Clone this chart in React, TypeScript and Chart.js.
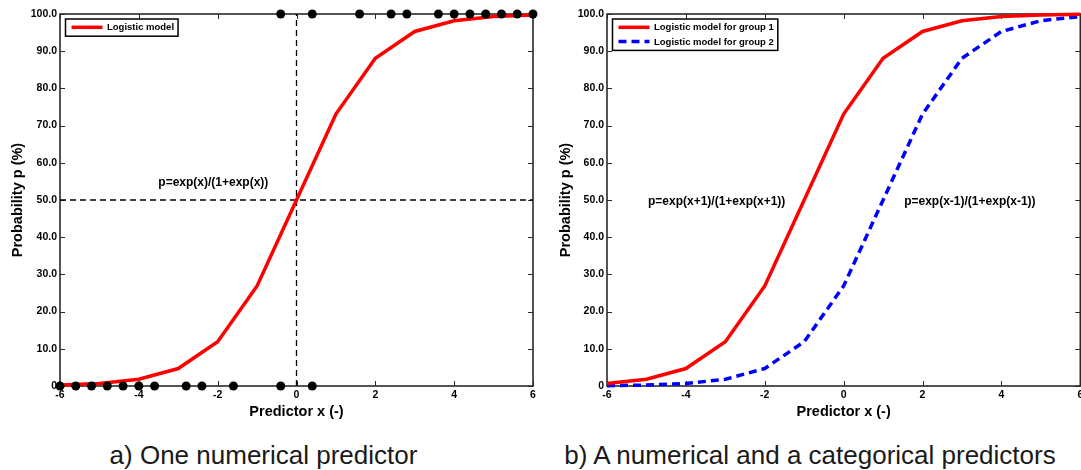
import React, { useEffect, useRef } from "react";
import { Chart, registerables } from "chart.js";

Chart.register(...registerables);

// ---------- data ----------
const xValues = [-6, -5, -4, -3, -2, -1, 0, 1, 2, 3, 4, 5, 6];
const pSingle = [0.25, 0.67, 1.8, 4.7, 11.9, 26.9, 50, 73.1, 88.1, 95.3, 98.2, 99.3, 99.75];
const pGroup1 = [0.67, 1.8, 4.7, 11.9, 26.9, 50, 73.1, 88.1, 95.3, 98.2, 99.3, 99.75, 99.9];
const pGroup2 = [0.09, 0.25, 0.67, 1.8, 4.7, 11.9, 26.9, 50, 73.1, 88.1, 95.3, 98.2, 99.3];
const obsXNo = [-6, -5.6, -5.2, -4.8, -4.4, -4.0, -3.6, -2.8, -2.4, -1.6, -0.4, 0.4];
const obsXYes = [-0.4, 0.4, 1.6, 2.4, 2.8, 3.6, 4.0, 4.4, 4.8, 5.2, 5.6, 6.0];
const xTicks = [-6, -4, -2, 0, 2, 4, 6];
const xTickLabels = ["-6", "-4", "-2", "0", "2", "4", "6"];
const yTicks = [0, 10, 20, 30, 40, 50, 60, 70, 80, 90, 100];
const yTickLabels = ["0", "10.0", "20.0", "30.0", "40.0", "50.0", "60.0", "70.0", "80.0", "90.0", "100.0"];
const refX = [0];
const refY = [50];

const formulaA = [{ text: "p=exp(x)/(1+exp(x))", x: -2.11, y: 54.6 }];
const formulaB = [
  { text: "p=exp(x+1)/(1+exp(x+1))", x: -3.22, y: 49.6 },
  { text: "p=exp(x-1)/(1+exp(x-1))", x: 3.2, y: 49.6 },
];

const FONT = '"Liberation Sans", Arial, Helvetica, sans-serif';

// ---------- plugins ----------
const boxPlugin = {
  id: "boxFrame",
  beforeDatasetsDraw(chart: any) {
    const { ctx, chartArea: a, scales } = chart;
    const xs = scales.x;
    const ys = scales.y;
    ctx.save();
    ctx.strokeStyle = "#2a2a2a";
    ctx.lineWidth = 1.6;
    ctx.strokeRect(a.left, a.top, a.right - a.left, a.bottom - a.top);
    ctx.lineWidth = 1;
    ctx.beginPath();
    xs.ticks.forEach((t: any) => {
      const p = Math.round(xs.getPixelForValue(t.value)) + 0.5;
      ctx.moveTo(p, a.bottom);
      ctx.lineTo(p, a.bottom - 5);
      ctx.moveTo(p, a.top);
      ctx.lineTo(p, a.top + 5);
    });
    ys.ticks.forEach((t: any) => {
      const p = Math.round(ys.getPixelForValue(t.value)) + 0.5;
      ctx.moveTo(a.left, p);
      ctx.lineTo(a.left + 5, p);
      ctx.moveTo(a.right, p);
      ctx.lineTo(a.right - 5, p);
    });
    ctx.stroke();
    ctx.restore();
  },
};

const legendPlugin = {
  id: "boxLegend",
  afterDatasetsDraw(chart: any) {
    const items = chart.data.datasets.filter((d: any) => d.inLegend);
    if (!items.length) return;
    const { ctx, chartArea: a } = chart;
    ctx.save();
    ctx.font = `bold 9.5px ${FONT}`;
    const rowH = 14.2;
    const padX = 6;
    const lineLen = 31;
    const gap = 4.5;
    const textW = Math.max(...items.map((d: any) => ctx.measureText(d.label).width));
    const bx = a.left + 5.5;
    const by = a.top + 5;
    const bw = padX + lineLen + gap + textW + 4;
    const bh = 3 + rowH * items.length;
    ctx.fillStyle = "#fff";
    ctx.fillRect(bx, by, bw, bh);
    ctx.strokeStyle = "#000";
    ctx.lineWidth = 1.5;
    ctx.strokeRect(bx, by, bw, bh);
    items.forEach((d: any, i: number) => {
      const cy = by + 8.3 + i * rowH;
      ctx.beginPath();
      ctx.strokeStyle = d.borderColor;
      ctx.lineWidth = d.borderWidth;
      ctx.setLineDash(d.borderDash || []);
      ctx.moveTo(bx + padX, cy);
      ctx.lineTo(bx + padX + lineLen, cy);
      ctx.stroke();
      ctx.setLineDash([]);
      ctx.fillStyle = "#000";
      ctx.textBaseline = "middle";
      ctx.textAlign = "left";
      ctx.fillText(d.label, bx + padX + lineLen + gap, cy + 0.5);
    });
    ctx.restore();
  },
};

const textPlugin = {
  id: "formulaText",
  afterDatasetsDraw(chart: any, _args: any, opts: any) {
    const list = (opts && opts.items) || [];
    const { ctx, scales } = chart;
    ctx.save();
    ctx.font = `bold 12px ${FONT}`;
    ctx.fillStyle = "#000";
    ctx.textAlign = "center";
    ctx.textBaseline = "middle";
    list.forEach((it: any) => {
      ctx.fillText(it.text, scales.x.getPixelForValue(it.x), scales.y.getPixelForValue(it.y));
    });
    ctx.restore();
  },
};

// ---------- config helpers ----------
const tickFont = { family: FONT, size: 10.5, weight: "bold" as const, lineHeight: 1 };
const titleFont = { family: FONT, size: 14.5, weight: "bold" as const, lineHeight: 1.2 };

function makeScales(yWidth: number, yTitlePad: number) {
  return {
    x: {
      type: "linear",
      min: -6,
      max: 6,
      afterBuildTicks: (s: any) => {
        s.ticks = xTicks.map((v) => ({ value: v }));
      },
      ticks: {
        callback: (v: any) => xTickLabels[xTicks.indexOf(v)],
        font: tickFont,
        color: "#000",
        padding: 4,
        maxRotation: 0,
        autoSkip: false,
      },
      grid: { display: false, drawTicks: false },
      border: { display: false },
      title: {
        display: true,
        text: "Predictor x (-)",
        font: titleFont,
        color: "#000",
        padding: { top: 0, bottom: 5.6 },
      },
      afterFit: (s: any) => {
        s.height = 40;
      },
    },
    y: {
      type: "linear",
      min: 0,
      max: 100,
      afterBuildTicks: (s: any) => {
        s.ticks = yTicks.map((v) => ({ value: v }));
      },
      ticks: {
        callback: (v: any) => yTickLabels[yTicks.indexOf(v)],
        font: tickFont,
        color: "#000",
        padding: 3,
        autoSkip: false,
      },
      grid: { display: false, drawTicks: false },
      border: { display: false },
      title: {
        display: true,
        text: "Probability p (%)",
        font: titleFont,
        color: "#000",
        padding: { top: yTitlePad, bottom: 0 },
      },
      afterFit: (s: any) => {
        s.width = yWidth;
      },
    },
  };
}

const pts = (xs: number[], ys: number[]) => xs.map((x, i) => ({ x, y: ys[i] }));
const constY = (xs: number[], y: number) => xs.map((x) => ({ x, y }));

function configA(): any {
  return {
    type: "scatter",
    data: {
      datasets: [
        {
          label: "Observed 0",
          data: constY(obsXNo, 0),
          pointRadius: 4.5,
          pointBackgroundColor: "#000",
          pointBorderWidth: 0,
          showLine: false,
          clip: false,
        },
        {
          label: "Observed 1",
          data: constY(obsXYes, 100),
          pointRadius: 4.5,
          pointBackgroundColor: "#000",
          pointBorderWidth: 0,
          showLine: false,
          clip: false,
        },
        {
          label: "Logistic model",
          inLegend: true,
          data: pts(xValues, pSingle),
          showLine: true,
          borderColor: "#ff0000",
          borderWidth: 3.5,
          pointRadius: 0,
          tension: 0,
          clip: false,
        },
        {
          label: "x = 0",
          data: [
            { x: refX[0], y: 0 },
            { x: refX[0], y: 100 },
          ],
          showLine: true,
          borderColor: "#000",
          borderWidth: 1.3,
          borderDash: [6, 4],
          pointRadius: 0,
        },
        {
          label: "p = 50",
          data: [
            { x: -6, y: refY[0] },
            { x: 6, y: refY[0] },
          ],
          showLine: true,
          borderColor: "#000",
          borderWidth: 1.3,
          borderDash: [6, 4],
          pointRadius: 0,
        },
      ],
    },
    options: {
      responsive: false,
      animation: false,
      events: [],
      layout: { padding: { left: 0, top: 14, right: 12, bottom: 4 } },
      scales: makeScales(60, 9.7),
      plugins: {
        legend: { display: false },
        tooltip: { enabled: false },
        formulaText: { items: formulaA },
      },
    },
    plugins: [boxPlugin, legendPlugin, textPlugin],
  };
}

function configB(): any {
  return {
    type: "scatter",
    data: {
      datasets: [
        {
          label: "Logistic model for group 1",
          inLegend: true,
          data: pts(xValues, pGroup1),
          showLine: true,
          borderColor: "#ff0000",
          borderWidth: 3.5,
          pointRadius: 0,
          tension: 0,
          clip: false,
        },
        {
          label: "Logistic model for group 2",
          inLegend: true,
          data: pts(xValues, pGroup2),
          showLine: true,
          borderColor: "#0000ff",
          borderWidth: 3.5,
          borderDash: [8, 5],
          pointRadius: 0,
          tension: 0,
          clip: false,
        },
      ],
    },
    options: {
      responsive: false,
      animation: false,
      events: [],
      layout: { padding: { left: 0, top: 14, right: 24.7, bottom: 4 } },
      scales: makeScales(62, 12.2),
      plugins: {
        legend: { display: false },
        tooltip: { enabled: false },
        formulaText: { items: formulaB },
      },
    },
    plugins: [boxPlugin, legendPlugin, textPlugin],
  };
}

function ChartCanvas(props: { make: () => any; left: number; width: number; height: number }) {
  const ref = useRef<HTMLCanvasElement | null>(null);
  useEffect(() => {
    const c = new Chart(ref.current as HTMLCanvasElement, props.make());
    return () => c.destroy();
  }, []);
  return (
    <canvas
      ref={ref}
      width={props.width}
      height={props.height}
      style={{
        position: "absolute",
        left: props.left,
        top: 0,
        width: props.width,
        height: props.height,
      }}
    />
  );
}

const captionStyle: React.CSSProperties = {
  position: "absolute",
  top: 440,
  width: 600,
  textAlign: "center",
  fontFamily: FONT,
  fontSize: 26,
  lineHeight: "30px",
  color: "#1a1a1a",
  whiteSpace: "nowrap",
};

export default function App() {
  return (
    <div
      style={{
        position: "absolute",
        left: 0,
        top: 0,
        width: 1081,
        height: 470,
        overflow: "hidden",
        background: "#fff",
      }}
    >
      <ChartCanvas make={configA} left={0} width={545} height={430} />
      <ChartCanvas make={configB} left={545} width={560} height={430} />
      <div style={{ ...captionStyle, left: 263.5 - 300 }}>a) One numerical predictor</div>
      <div style={{ ...captionStyle, left: 810 - 300 }}>b) A numerical and a categorical predictors</div>
    </div>
  );
}
